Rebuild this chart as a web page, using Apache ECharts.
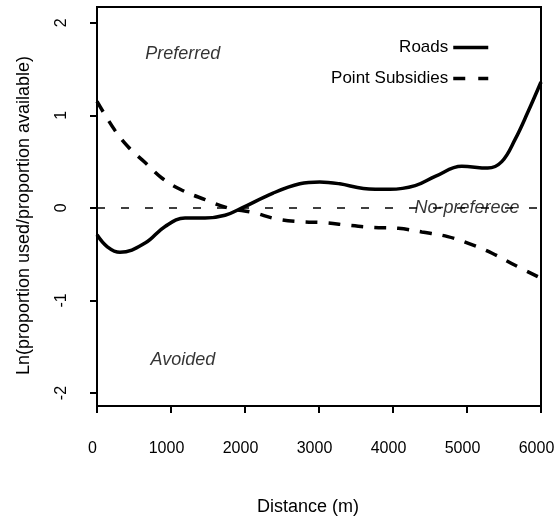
<!DOCTYPE html>
<html>
<head>
<meta charset="utf-8">
<script src="https://cdn.jsdelivr.net/npm/echarts@6/dist/echarts.min.js"></script>
<style>html,body{margin:0;padding:0;background:#fff}#c{width:556px;height:518px}</style>
</head>
<body>
<div id="c"></div>
<script>
// Data
var roadsX = [0, 140, 310, 650, 920, 1190, 1460, 1730, 1960, 2380, 2740, 3010, 3280, 3600, 3960, 4300, 4570, 4930, 5280, 5470, 5650, 5820, 6000];
var roadsY = [-0.29, -0.42, -0.48, -0.38, -0.2, -0.11, -0.11, -0.08, 0.0, 0.16, 0.26, 0.28, 0.26, 0.21, 0.2, 0.24, 0.34, 0.45, 0.43, 0.5, 0.74, 1.03, 1.36];
var subsX = [0, 240, 420, 650, 880, 1150, 1460, 1770, 2110, 2430, 2770, 3080, 3420, 3730, 4070, 4390, 4740, 5010, 5340, 5650, 6000];
var subsY = [1.15, 0.84, 0.66, 0.49, 0.32, 0.19, 0.09, 0.0, -0.05, -0.12, -0.15, -0.16, -0.19, -0.21, -0.22, -0.26, -0.31, -0.38, -0.49, -0.62, -0.76];
var xTicks = [0, 1000, 2000, 3000, 4000, 5000, 6000];
var yTicks = [-2, -1, 0, 1, 2];
var noPrefX = [0, 6000];
var noPrefY = [0, 0];
var annotText = ['Preferred', 'Avoided', 'No-preferece'];
var annotX = [1160, 1160, 5000];
var annotY = [1.66, -1.64, 0];
var seriesNames = ['Roads', 'Point Subsidies'];

function zip(a, b) { return a.map(function (v, i) { return [v, b[i]]; }); }

var FONT = 'Liberation Sans';
var legendBase = {orient: 'vertical', align: 'right', right: 66, itemWidth: 35, itemHeight: 14, padding: 0,
  itemStyle: {opacity: 0}, textStyle: {fontSize: 17, fontFamily: FONT, color: '#000'}, itemGap: 0};
var chart = echarts.init(document.getElementById('c'), null, {renderer: 'canvas'});
chart.setOption({
  animation: false,
  backgroundColor: '#fff',
  textStyle: {fontFamily: FONT, color: '#000'},
  grid: {left: 97, top: 7, right: 15, bottom: 112, show: true, borderColor: '#000', borderWidth: 2,
    backgroundColor: 'transparent', outerBoundsMode: 'none', containLabel: false},
  xAxis: {
    type: 'value', min: 0, max: 6000, interval: 1000,
    name: 'Distance (m)', nameLocation: 'middle', nameGap: 92,
    nameTextStyle: {fontSize: 18, fontFamily: FONT, color: '#000', padding: [0, 22, 0, 0]},
    axisLine: {show: false, onZero: false},
    axisTick: {show: true, inside: false, length: 7, lineStyle: {color: '#000', width: 2}},
    axisLabel: {fontSize: 16, fontFamily: FONT, color: '#000', margin: 35, padding: [0, 9, 0, 0],
      formatter: function (v) { return String(v); }},
    splitLine: {show: false}
  },
  yAxis: {
    type: 'value', min: -2.14, max: 2.17,
    name: 'Ln(proportion used/proportion available)', nameLocation: 'middle', nameGap: 64,
    nameTextStyle: {fontSize: 18, fontFamily: FONT, color: '#000', padding: [0, 18, 0, 0]},
    axisLine: {show: false, onZero: false},
    axisTick: {show: true, length: 7, lineStyle: {color: '#000', width: 2}, customValues: yTicks},
    axisLabel: {fontSize: 16, fontFamily: FONT, color: '#000', rotate: 90, margin: 27, customValues: yTicks,
      formatter: function (v) { return String(v); }},
    splitLine: {show: false}
  },
  legend: [
    Object.assign({}, legendBase, {data: [seriesNames[0]], top: 39, lineStyle: {width: 3.5}}),
    Object.assign({}, legendBase, {data: [seriesNames[1]], top: 70, lineStyle: {width: 3.5, type: [12, 13]}})
  ],
  series: [
    {
      name: 'noPref', type: 'line', data: zip(noPrefX, noPrefY), symbol: 'none', silent: true,
      lineStyle: {color: '#000', width: 1.5, type: [8, 16], dashOffset: 0}
    },
    {
      name: seriesNames[0], type: 'line', data: zip(roadsX, roadsY), smooth: 0.4, symbol: 'none',
      itemStyle: {color: '#000'},
      lineStyle: {color: '#000', width: 3.5, type: 'solid'}
    },
    {
      name: seriesNames[1], type: 'line', data: zip(subsX, subsY), smooth: 0.4, symbol: 'none',
      itemStyle: {color: '#000'},
      lineStyle: {color: '#000', width: 3.5, type: [12, 11], cap: 'butt'}
    },
    {
      name: 'annot', type: 'scatter', symbolSize: 0, silent: true,
      data: annotX.map(function (x, i) { return {value: [x, annotY[i]], name: annotText[i]}; }),
      label: {show: true, position: 'inside', formatter: function (p) { return p.name; },
        fontSize: 18, fontStyle: 'italic', fontFamily: FONT, color: '#000'}
    }
  ]
});
</script>
</body>
</html>
